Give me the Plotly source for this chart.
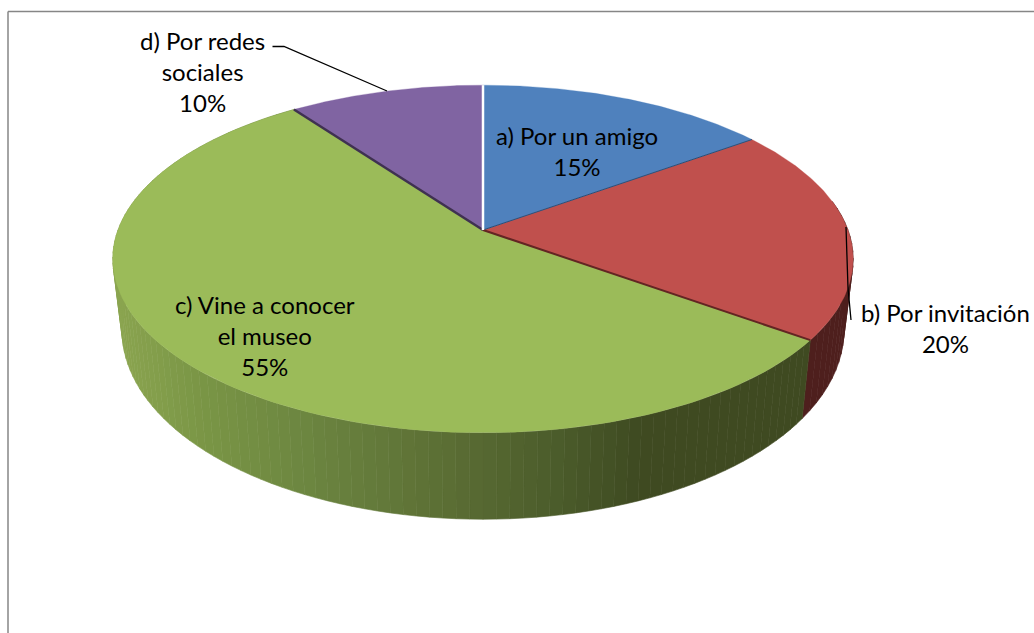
"""
Pastel 3D en perspectiva: las cuñas se calculan desde los porcentajes
"""
import numpy as np
import plotly.graph_objects as go

# datos
labels = ["a) Por un amigo", "b) Por invitación", "c) Vine a conocer el museo", "d) Por redes sociales"]
percents = [15, 20, 55, 10]
display_labels = ["a) Por un amigo<br>15%", "b) Por invitación<br>20%",
                  "c) Vine a conocer<br>el museo<br>55%", "d) Por redes<br>sociales<br>10%"]

# colores
top_colors = ["#4f81bd", "#c0504d", "#9bbb59", "#8064a2"]
edge_colors = ["#2c4d75", "#632523", "#3f3151", "#ffffff"]
edge_widths = [1, 2, 2.5, 2.5]
side_red = "#4e1f1d"
green_stops = [(113, (139, 165, 80)), (200, (122, 150, 70)), (300, (109, 135, 65)),
               (467, (89, 107, 51)), (560, (75, 92, 43)), (640, (63, 75, 34)), (860, (63, 74, 33))]

# geometría de la proyección
CX, CY = 483, 230
RX, RY = 365, 169
K = 1 / 6
BASE_Y = 299
BASE_SX, BASE_SY = 0.975, 1.086
FONT = "Lato"
FONT_SIZE = 24


def top_rim(theta):
    """Punto del borde superior; theta en radianes desde arriba, sentido horario"""
    u, v = np.sin(theta), np.cos(theta)
    w = 1 + K * v
    return CX + RX * u / w, CY - RY * v / w


def base_rim(theta):
    u, v = np.sin(theta), np.cos(theta)
    w = 1 + K * v
    return CX + BASE_SX * RX * u / w, BASE_Y - BASE_SY * RY * v / w


def green_color(x):
    xs = [s[0] for s in green_stops]
    rgb = [np.interp(x, xs, [s[1][i] for s in green_stops]) for i in range(3)]
    return "rgb(%d,%d,%d)" % tuple(rgb)


fig = go.Figure()

bounds = np.radians(np.cumsum([0] + percents) * 3.6)
starts, ends = bounds[:-1], bounds[1:]


def add_poly(xs, ys, color, lw=0.6):
    fig.add_trace(go.Scatter(x=xs, y=ys, mode="lines", fill="toself", fillcolor=color,
                             line=dict(color=color, width=lw), hoverinfo="skip", showlegend=False))


# costado: franjas entre el borde superior y la base
for i, color in [(1, side_red), (2, None)]:
    edges = np.linspace(starts[i], ends[i], 9 if color else 111)
    if color:
        edges = np.linspace(np.radians(80), ends[i], 20)
    for a, b in zip(edges[:-1], edges[1:]):
        tx, ty = top_rim(np.array([a, b]))
        bx, by = base_rim(np.array([b, a]))
        if color is None and np.sin((a + b) / 2) > 0.95:
            continue
        c = color or green_color((tx[0] + tx[1]) / 2)
        add_poly(list(tx) + list(bx) + [tx[0]], list(ty) + list(by) + [ty[0]], c)

# caras superiores
for i in [2, 1, 0, 3]:
    t = np.linspace(starts[i], ends[i], 120)
    rx, ry = top_rim(t)
    add_poly([CX] + list(rx) + [CX], [CY] + list(ry) + [CY], top_colors[i], lw=0.3)

# bordes entre cuñas
for i in range(4):
    rx, ry = top_rim(ends[i])
    fig.add_trace(go.Scatter(x=[CX, rx], y=[CY, ry], mode="lines",
                             line=dict(color=edge_colors[i], width=edge_widths[i]),
                             hoverinfo="skip", showlegend=False))

# líneas guía
fig.add_trace(go.Scatter(x=[272.5, 284, 387], y=[46.5, 46.5, 91], mode="lines",
                         line=dict(color="#000000", width=1.3), hoverinfo="skip", showlegend=False))
fig.add_trace(go.Scatter(x=[846, 848, 851], y=[227, 288, 320], mode="lines",
                         line=dict(color="#000000", width=1.3), hoverinfo="skip", showlegend=False))

# etiquetas
label_pos = [(577, 151), (945, 328), (265, 335), (202, 71)]
for text, (x, y) in zip(display_labels, label_pos):
    fig.add_annotation(x=x, y=y, text=text, showarrow=False, align="center",
                       font=dict(family=FONT, size=FONT_SIZE, color="#000000"))

fig.update_layout(
    width=1034,
    height=633,
    margin=dict(l=0, r=0, t=0, b=0),
    paper_bgcolor="#ffffff",
    plot_bgcolor="#ffffff",
    showlegend=False,
    xaxis=dict(range=[0, 1034], visible=False, fixedrange=True),
    yaxis=dict(range=[633, 0], visible=False, fixedrange=True),
    shapes=[
        dict(type="line", x0=8, x1=8, y0=11.5, y1=633, line=dict(color="#868686", width=1.5)),
        dict(type="line", x0=8, x1=1034, y0=11.5, y1=11.5, line=dict(color="#868686", width=1.5)),
    ],
)

fig.write_html("out.html", config=dict(displayModeBar=False),
               post_script="document.body.style.margin='0';")
